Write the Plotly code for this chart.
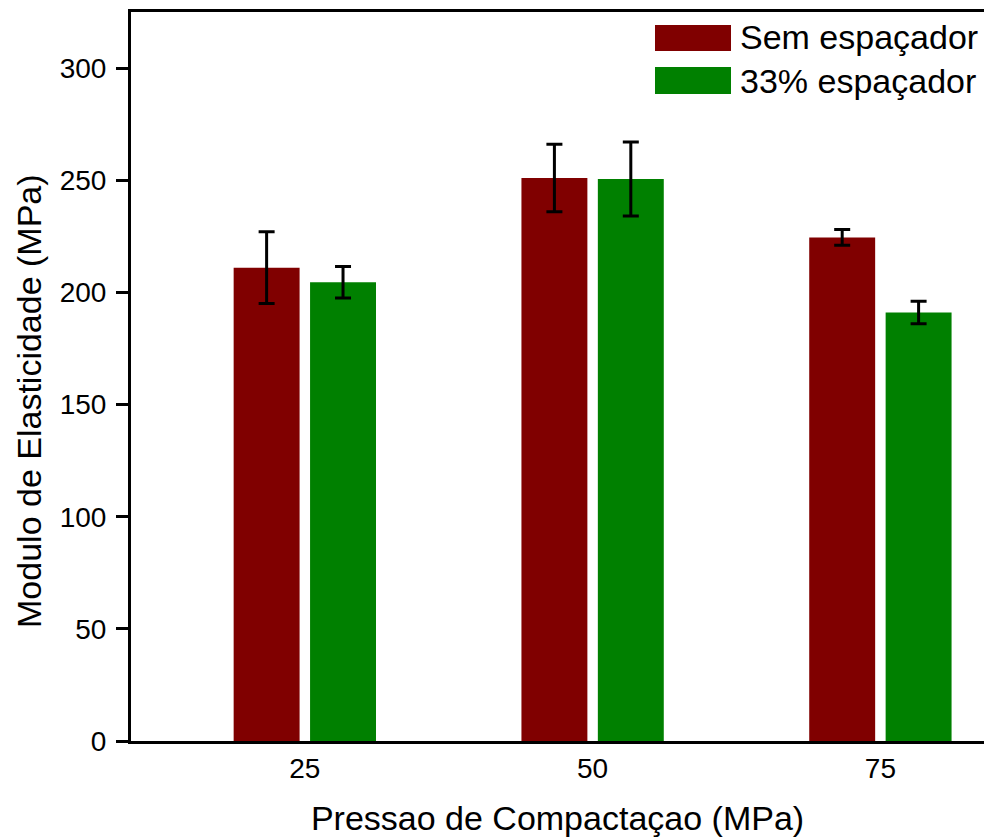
import plotly.graph_objects as go

pressures = [25, 50, 75]
sem_values = [211, 251, 224.5]
sem_errors = [16, 15, 3.5]
esp_values = [204.5, 250.5, 191]
esp_errors = [7, 16.5, 5]
series_names = ["Sem espaçador", "33% espaçador"]
colors = ["#800000", "#008000"]
y_ticks = [0, 50, 100, 150, 200, 250, 300]

FONT = "Liberation Sans, Arial, sans-serif"

fig = go.Figure()
for name, vals, errs, col in zip(series_names, [sem_values, esp_values],
                                 [sem_errors, esp_errors], colors):
    fig.add_trace(go.Bar(
        x=pressures, y=vals, name=name,
        marker=dict(color=col, line=dict(width=0)),
        error_y=dict(type="data", array=errs, visible=True,
                     color="black", thickness=3, width=8),
        showlegend=False,
    ))

# legend drawn manually (large swatches)
legend_rows = [(0.982, 0.9464, 0.9655), (0.9245, 0.8874, 0.906)]
for (y0, y1, yc), name, col in zip(legend_rows, series_names, colors):
    fig.add_shape(type="rect", xref="paper", yref="paper",
                  x0=0.6143, x1=0.7034, y0=y1, y1=y0,
                  fillcolor=col, line=dict(width=0))
    fig.add_annotation(xref="paper", yref="paper", x=0.712, y=yc,
                       text=name, showarrow=False, xanchor="left",
                       yanchor="middle",
                       font=dict(family=FONT, size=34, color="black"))

# y axis title as annotation (offset downward like the reference)
fig.add_annotation(xref="paper", yref="paper", x=-0.1196, y=0.4664,
                   text="Modulo de Elasticidade (MPa)", showarrow=False,
                   textangle=-90, xanchor="center", yanchor="middle",
                   font=dict(family=FONT, size=34, color="black"))

fig.update_layout(
    width=984, height=840,
    margin=dict(l=131, r=0, t=12, b=99),
    plot_bgcolor="white", paper_bgcolor="white",
    barmode="group", bargap=0.469, bargroupgap=0.137,
    font=dict(family=FONT, color="black"),
)
fig.update_xaxes(
    range=[9.9, 84.0],
    tickvals=pressures, ticktext=[str(p) for p in pressures],
    ticks="", ticklabelstandoff=0,
    tickfont=dict(family=FONT, size=28, color="black"),
    showline=True, linecolor="black", linewidth=3, mirror=True,
    showgrid=False, zeroline=False,
    title=dict(text="Pressao de Compactaçao (MPa)",
               font=dict(family=FONT, size=34, color="black"), standoff=24),
)
fig.update_yaxes(
    range=[0, 325],
    tickvals=y_ticks,
    ticks="outside", ticklen=12, tickwidth=2.5, tickcolor="black",
    ticklabelstandoff=4,
    tickfont=dict(family=FONT, size=28, color="black"),
    showline=True, linecolor="black", linewidth=3, mirror=False,
    showgrid=False, zeroline=False,
)

fig.write_html("out.html")
